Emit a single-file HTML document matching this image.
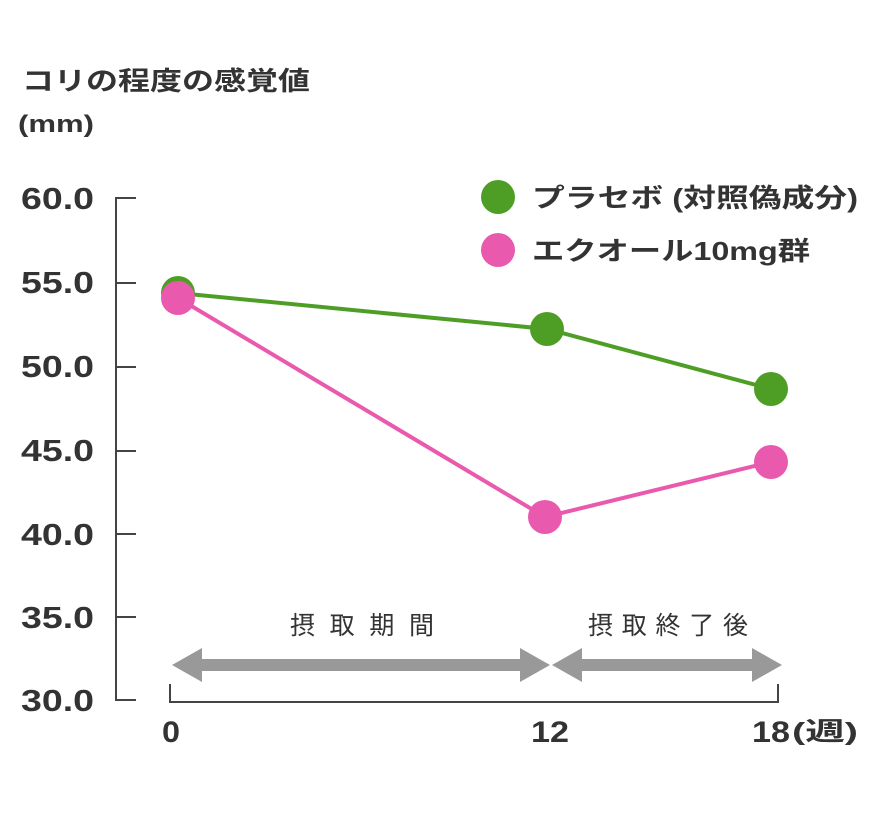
<!DOCTYPE html>
<html><head><meta charset="utf-8"><style>
body{margin:0;background:#fff;}
svg text{font-family:"Liberation Sans","Noto Sans CJK JP",sans-serif;fill:#333;}
</style></head><body>
<svg width="880" height="814" viewBox="0 0 880 814" xmlns="http://www.w3.org/2000/svg">
<text x="22" y="90" font-size="26" font-weight="bold" textLength="288" lengthAdjust="spacingAndGlyphs">コリの程度の感覚値</text>
<text x="18" y="132" font-size="24" font-weight="bold" textLength="76" lengthAdjust="spacingAndGlyphs">(mm)</text>
<g font-size="31" font-weight="bold">
<text x="21" y="209" textLength="73" lengthAdjust="spacingAndGlyphs">60.0</text>
<text x="21" y="293" textLength="73" lengthAdjust="spacingAndGlyphs">55.0</text>
<text x="21" y="377" textLength="73" lengthAdjust="spacingAndGlyphs">50.0</text>
<text x="21" y="461" textLength="73" lengthAdjust="spacingAndGlyphs">45.0</text>
<text x="21" y="545" textLength="73" lengthAdjust="spacingAndGlyphs">40.0</text>
<text x="21" y="628" textLength="73" lengthAdjust="spacingAndGlyphs">35.0</text>
<text x="21" y="711" textLength="73" lengthAdjust="spacingAndGlyphs">30.0</text></g>
<g stroke="#444" stroke-width="2" fill="none">
<path d="M136 198H116V700H136M116 283H136M116 367H136M116 451H136M116 534H136M116 617H136"/>
<path d="M170 684V702H778V684"/></g>
<g fill="#999">
<path d="M172 665L202 648V659H520V648L550 665L520 682V671H202V682Z"/>
<path d="M552 665L582 648V659H752V648L782 665L752 682V671H582V682Z"/></g>
<text x="290" y="634" font-size="25" textLength="144" lengthAdjust="spacing">摂取期間</text>
<text x="588" y="634" font-size="25" textLength="160" lengthAdjust="spacing">摂取終了後</text>
<g font-size="30" font-weight="bold">
<text x="162" y="742" textLength="18" lengthAdjust="spacingAndGlyphs">0</text>
<text x="531" y="742" textLength="38" lengthAdjust="spacingAndGlyphs">12</text>
<text x="752" y="742" textLength="38" lengthAdjust="spacingAndGlyphs">18</text></g>
<text x="792" y="740" font-size="25" font-weight="bold" textLength="66" lengthAdjust="spacingAndGlyphs">(週)</text>
<polyline points="178,293 547,329 771,389" fill="none" stroke="#4e9e26" stroke-width="4"/>
<g fill="#4e9e26"><circle cx="178" cy="293" r="17"/><circle cx="547" cy="329" r="17"/><circle cx="771" cy="389" r="17"/></g>
<polyline points="178,298 545,517 771,462" fill="none" stroke="#e95aae" stroke-width="4"/>
<g fill="#e95aae"><circle cx="178" cy="298" r="17"/><circle cx="545" cy="517" r="17"/><circle cx="771" cy="462" r="17"/></g>
<circle cx="498" cy="197" r="17" fill="#4e9e26"/>
<circle cx="498" cy="250" r="17" fill="#e95aae"/>
<text x="532" y="207" font-size="26" font-weight="bold" textLength="326" lengthAdjust="spacingAndGlyphs">プラセボ (対照偽成分)</text>
<text x="532" y="260" font-size="26" font-weight="bold" textLength="278" lengthAdjust="spacingAndGlyphs">エクオール10mg群</text>
</svg>
</body></html>
